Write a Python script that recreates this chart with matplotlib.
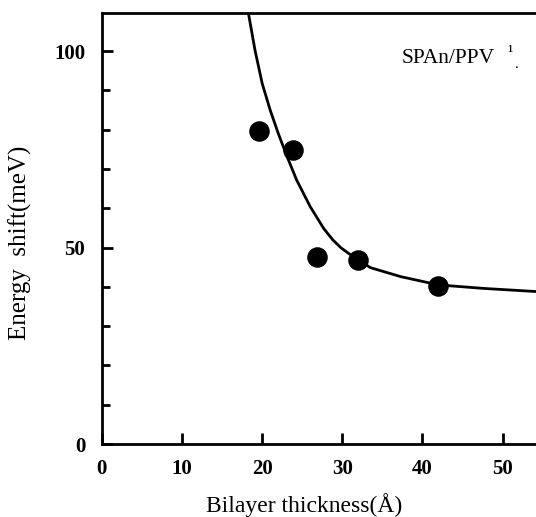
import matplotlib.pyplot as plt

# measured points
thickness = [19.6, 23.8, 26.9, 32.0, 42.0]
shift = [79.6, 74.8, 47.6, 46.8, 40.3]

# fitted curve
curve_x = [18.3, 19.1, 20.0, 21.0, 22.0, 23.1, 24.3, 26.0, 27.7, 28.8, 29.8,
           30.8, 31.8, 33.5, 37.3, 42.0, 47.7, 54.3]
curve_y = [109.5, 100.3, 91.8, 85.0, 79.1, 73.2, 67.2, 60.4, 54.8, 52.0, 50.0,
           48.5, 47.2, 44.9, 42.6, 40.5, 39.6, 38.8]

xticks = [0, 10, 20, 30, 40, 50]
yticks = [0, 50, 100]

plt.rcParams['font.family'] = ['Liberation Serif', 'DejaVu Serif']

fig = plt.figure(figsize=(5.36, 5.17), dpi=100, facecolor='white')
ax = fig.add_axes([0.190, 0.141, 0.812, 0.834])

ax.plot(curve_x, curve_y, color='black', linewidth=2.0,
        solid_capstyle='round', solid_joinstyle='round')
ax.scatter(thickness, shift, s=190, color='black', zorder=3)

ax.set_xlim(0, 54.3)
ax.set_ylim(0, 109.7)

ax.spines['right'].set_visible(False)
for s in ['left', 'top', 'bottom']:
    ax.spines[s].set_linewidth(2.0)

ax.set_xticks(xticks)
ax.set_xticklabels([str(t) for t in xticks], fontsize=15, fontweight='bold')
ax.set_yticks(yticks)
ax.set_yticklabels([str(t) for t in yticks], fontsize=15, fontweight='bold')
ax.set_yticks(range(0, 110, 10), minor=True)
ax.tick_params(axis='both', which='both', direction='in', width=2.0)
ax.tick_params(axis='both', which='major', length=8)
ax.tick_params(axis='y', which='minor', length=6)
ax.tick_params(axis='x', which='major', pad=11)
ax.tick_params(axis='y', which='major', pad=12)

ax.set_xlabel('Bilayer thickness(Å)', fontsize=17, va='center')
ax.xaxis.set_label_coords(0.464, -0.142)
ax.set_ylabel('Energy  shift(meV)', fontsize=18, va='center')
ax.yaxis.set_label_coords(-0.188, 0.466)

ax.text(37.4, 98.2, 'SPAn/PPV', fontsize=15.5, va='center', ha='left')
ax.text(50.6, 99.7, '\u00b9', fontsize=13, va='center', ha='left')
ax.text(51.6, 96.5, '.', fontsize=11, va='center', ha='left')

fig.savefig('out.png', dpi=100)
